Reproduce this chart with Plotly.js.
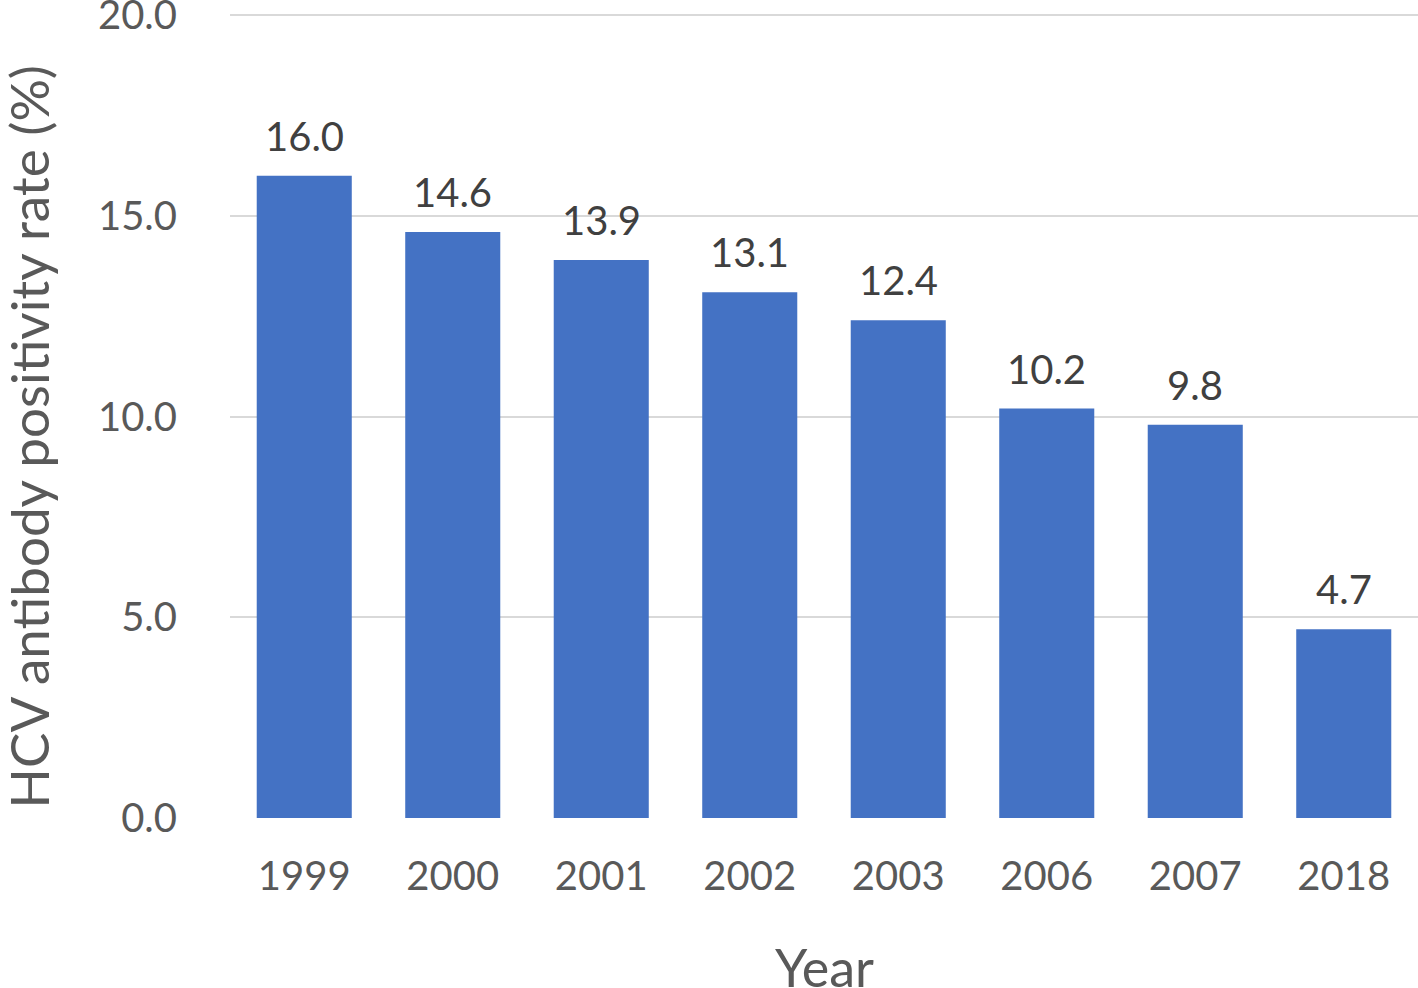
<!DOCTYPE html>
<html>
<head>
<meta charset="utf-8">
<script src="https://cdn.plot.ly/plotly-3.0.1.min.js"></script>
<style>html,body{margin:0;padding:0;background:#fff;}#chart{width:1418px;height:988px;}</style>
</head>
<body>
<div id="chart"></div>
<script>
const years = ["1999", "2000", "2001", "2002", "2003", "2006", "2007", "2018"];
const rates = [16.0, 14.6, 13.9, 13.1, 12.4, 10.2, 9.8, 4.7];
const yTicks = [0, 5, 10, 15, 20];
const yTickLabels = ["0.0", "5.0", "10.0", "15.0", "20.0"];

const FONT = "Lato, 'Open Sans', sans-serif";

const trace = {
  type: "bar",
  x: years,
  y: rates,
  marker: {color: "#4472C4"},
  cliponaxis: false
};

const annotations = years.map((yr, i) => ({
  x: i, y: rates[i], xref: "x", yref: "y",
  text: rates[i].toFixed(1),
  showarrow: false, yanchor: "bottom", yshift: 14,
  font: {family: FONT, size: 40, color: "#404040"}
}));

annotations.push({
  text: "HCV antibody positivity rate (%)",
  xref: "paper", yref: "paper",
  x: -0.1695, y: 0.473, xanchor: "center", yanchor: "middle",
  textangle: -90, showarrow: false,
  font: {family: FONT, size: 53, color: "#595959"}
});

annotations.push({
  text: "Year",
  xref: "paper", yref: "paper",
  x: 0.5, y: 0, xanchor: "center", yanchor: "top", yshift: -116,
  showarrow: false,
  font: {family: FONT, size: 52, color: "#595959"}
});

const layout = {
  width: 1418, height: 988,
  margin: {l: 230, r: 0, t: 12, b: 170},
  paper_bgcolor: "#fff", plot_bgcolor: "#fff",
  bargap: 0.36,
  showlegend: false,
  font: {family: FONT, color: "#595959"},
  xaxis: {
    type: "category",
    categoryorder: "array", categoryarray: years,
    range: [-0.5, years.length - 0.5],
    tickfont: {family: FONT, size: 40, color: "#595959"},
    ticks: "outside", ticklen: 23, tickcolor: "rgba(0,0,0,0)",
    showgrid: false, zeroline: false, showline: false
  },
  yaxis: {
    range: [0, 20.08],
    tickvals: yTicks, ticktext: yTickLabels,
    tickfont: {family: FONT, size: 40, color: "#595959"},
    ticklabeloverflow: "allow",
    ticks: "outside", ticklen: 44, tickcolor: "rgba(0,0,0,0)",
    showgrid: true, gridcolor: "#D9D9D9", gridwidth: 2,
    zeroline: false, showline: false
  },
  annotations: annotations
};

Plotly.newPlot("chart", [trace], layout, {displayModeBar: false, staticPlot: true});
</script>
</body>
</html>
